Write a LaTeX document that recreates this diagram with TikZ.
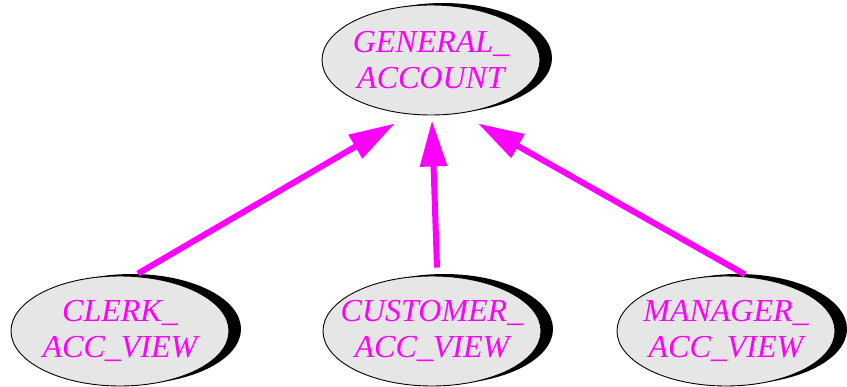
\documentclass[tikz,border=0pt]{standalone}
\usepackage{fontspec}
\setmainfont{Liberation Serif}
\usepackage{tikz}
\usetikzlibrary{arrows.meta, positioning, shapes.geometric, shadows}
\definecolor{cMag}{HTML}{FF00FF}
\definecolor{cFill}{HTML}{E6E6E6}

\begin{document}
\begin{tikzpicture}[x=1pt, y=-1pt,
      cls/.style={ellipse, draw, line width=0.9pt, fill=cFill, minimum width=218pt,
        minimum height=110pt, inner xsep=-30pt, inner ysep=-20pt, align=center,
        text=cMag, font=\fontsize{32}{36}\selectfont\itshape,
        drop shadow={shadow xshift=12pt, shadow yshift=2pt, fill=black, opacity=1}},
      inh/.style={draw=cMag, line width=6pt,
        -{Triangle[length=46pt, width=26pt, fill=cMag]}}]
    \useasboundingbox (0,0) rectangle (847,386);
    \node[cls] (general)  at (431,60)  {GENERAL\_\\ACCOUNT};
    \node[cls] (clerk)    at (120,331) {CLERK\_\\ACC\_VIEW};
    \node[cls] (customer) at (432,331) {CUSTOMER\_\\ACC\_VIEW};
    \node[cls] (manager)  at (726,331) {MANAGER\_\\ACC\_VIEW};
    \draw[inh] ([xshift=18pt, yshift=2pt]clerk.north)
      -- ([xshift=-36pt, yshift=-8pt]general.south);
    \draw[inh] ([xshift=5pt, yshift=8pt]customer.north)
      -- ([xshift=1pt, yshift=-5pt]general.south);
    \draw[inh] ([xshift=19pt, yshift=1pt]manager.north)
      -- ([xshift=47pt, yshift=-8pt]general.south);
  \end{tikzpicture}
\end{document}
